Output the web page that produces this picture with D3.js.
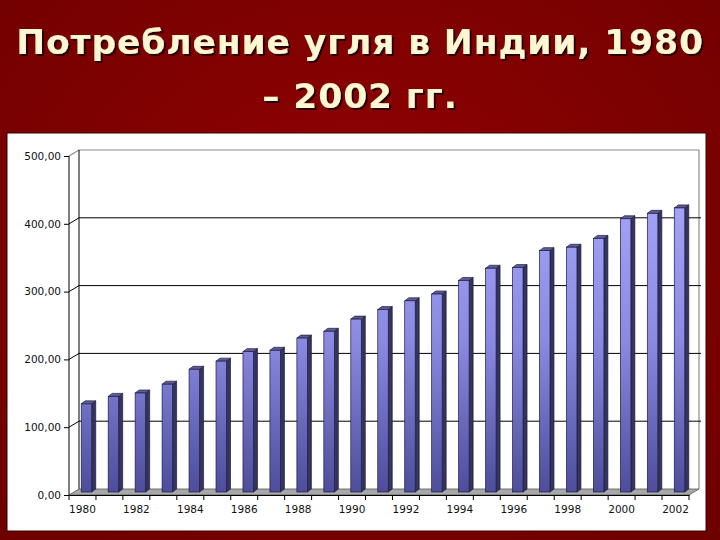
<!DOCTYPE html>
<html>
<head>
<meta charset="utf-8">
<script src="https://cdn.jsdelivr.net/npm/d3@7"></script>
<style>
  body { margin: 0; background: #870000; }
  svg { display: block; }
</style>
</head>
<body>
<div id="chart"></div>
<script>
const width = 720;
const height = 540;

const titleLines = ["Потребление угля в Индии, 1980", "– 2002 гг."];
const years = d3.range(1980, 2003).map(String);
const consumption = [130, 141, 146, 159, 181, 193, 207, 209, 227, 237, 255, 269,
  282, 292, 312, 330, 331, 356, 361, 374, 403, 411, 419];
const yTicks = [0, 100, 200, 300, 400, 500];

const depth = {dx: 10, dy: -6};   // 3d offset of the back wall
const barDepth = {dx: 4, dy: -3}; // thickness of a column

const svg = d3.select("#chart")
  .append("svg")
  .attr("width", width)
  .attr("height", height);

const defs = svg.append("defs");
const bg = defs.append("radialGradient").attr("id", "bg")
  .attr("cx", "50%").attr("cy", "40%").attr("r", "75%");
bg.append("stop").attr("offset", "0%").attr("stop-color", "#920202");
bg.append("stop").attr("offset", "100%").attr("stop-color", "#6e0000");

const grad = defs.append("linearGradient").attr("id", "barGrad")
  .attr("gradientUnits", "userSpaceOnUse")
  .attr("x1", 0).attr("y1", 150).attr("x2", 0).attr("y2", 495);
grad.append("stop").attr("offset", "0%").attr("stop-color", "#acacff");
grad.append("stop").attr("offset", "55%").attr("stop-color", "#8a8ae2");
grad.append("stop").attr("offset", "100%").attr("stop-color", "#4c4c9a");

const shadow = defs.append("filter").attr("id", "shadow")
  .attr("x", "-5%").attr("y", "-20%").attr("width", "110%").attr("height", "140%");
shadow.append("feDropShadow")
  .attr("dx", 2).attr("dy", 2).attr("stdDeviation", 0.6)
  .attr("flood-color", "#1e0000").attr("flood-opacity", 0.9);

svg.append("rect").attr("width", width).attr("height", height).attr("fill", "url(#bg)");

// title
svg.append("g")
  .attr("font-family", "DejaVu Sans, Verdana, sans-serif")
  .attr("font-weight", "bold")
  .attr("font-size", 34.5)
  .attr("letter-spacing", 0.9)
  .attr("text-anchor", "middle")
  .attr("fill", "#fff6d2")
  .attr("filter", "url(#shadow)")
  .selectAll("text")
  .data(titleLines)
  .join("text")
  .attr("x", width / 2)
  .attr("y", (d, i) => (i === 0 ? 54 : 108))
  .text(d => d);

// white panel
svg.append("rect")
  .attr("x", 7).attr("y", 133)
  .attr("width", 699).attr("height", 398)
  .attr("fill", "#ffffff")
  .attr("stroke", "#3a0000");

const x = d3.scaleBand()
  .domain(years)
  .range([69, 689]);

const yFront = d3.scaleLinear().domain([0, 500]).range([495, 156]);
const yBack = d3.scaleLinear().domain([0, 500]).range([495 + depth.dy, 156 + depth.dy]);
const yBar = d3.scaleLinear().domain([0, 500]).range([495 + depth.dy / 2, 156 + depth.dy / 2]);

const x0 = x.range()[0], x1 = x.range()[1];

// back wall frame
svg.append("path")
  .attr("d", `M${x0},${yFront(500)}L${x0 + depth.dx},${yBack(500)}L${x1 + depth.dx},${yBack(500)}L${x1 + depth.dx},${yBack(0)}`)
  .attr("fill", "none")
  .attr("stroke", "#8c8c8c")
  .attr("stroke-width", 1.2);

svg.append("line")
  .attr("x1", x0 + depth.dx).attr("x2", x0 + depth.dx)
  .attr("y1", yBack(500)).attr("y2", yBack(0))
  .attr("stroke", "#000");

// gridlines
const grid = svg.append("g").attr("stroke", "#000").attr("fill", "none");
grid.selectAll("path")
  .data(yTicks.filter(d => d > 0 && d < 500))
  .join("path")
  .attr("d", d => `M${x0},${yFront(d)}L${x0 + depth.dx},${yBack(d)}L${x1 + depth.dx + 2},${yBack(d)}`);

// floor
svg.append("path")
  .attr("d", `M${x0},${yFront(0)}L${x1},${yFront(0)}L${x1 + depth.dx},${yBack(0)}L${x0 + depth.dx},${yBack(0)}Z`)
  .attr("fill", "#a8a8a8")
  .attr("stroke", "#555")
  .attr("stroke-width", 0.8);

// columns
const barW = 10.5;
const bars = svg.append("g").attr("stroke", "#1c1c40").attr("stroke-width", 0.7);
const data = years.map((yr, i) => ({year: yr, value: consumption[i]}));
const bx = d => x(d.year) + depth.dx / 2 + (x.bandwidth() - barW) / 2 - 1;

bars.selectAll(".side")
  .data(data)
  .join("path")
  .attr("fill", "#34345e")
  .attr("d", d => {
    const l = bx(d) + barW, t = yBar(d.value), b = yBar(0);
    return `M${l},${t}L${l + barDepth.dx},${t + barDepth.dy}L${l + barDepth.dx},${b + barDepth.dy}L${l},${b}Z`;
  });

bars.selectAll(".top")
  .data(data)
  .join("path")
  .attr("fill", "#5c5c96")
  .attr("d", d => {
    const l = bx(d), t = yBar(d.value);
    return `M${l},${t}L${l + barW},${t}L${l + barW + barDepth.dx},${t + barDepth.dy}L${l + barDepth.dx},${t + barDepth.dy}Z`;
  });

bars.selectAll(".front")
  .data(data)
  .join("rect")
  .attr("fill", "url(#barGrad)")
  .attr("x", d => bx(d))
  .attr("y", d => yBar(d.value))
  .attr("width", barW)
  .attr("height", d => yBar(0) - yBar(d.value));

// y axis
const yAxis = svg.append("g")
  .attr("transform", `translate(${x0},0)`)
  .call(d3.axisLeft(yFront)
    .tickValues(yTicks)
    .tickSize(5)
    .tickPadding(3)
    .tickFormat(d => d3.format(".2f")(d).replace(".", ",")));
yAxis.select(".domain").attr("d", `M-0,${yFront(500)}V${yFront(0)}`);

// x axis
const xAxis = svg.append("g")
  .attr("transform", `translate(0,${yFront(0)})`)
  .call(d3.axisBottom(x)
    .tickSize(0)
    .tickPadding(11)
    .tickFormat(d => (+d % 2 === 0 ? d : "")));

xAxis.selectAll(".bnd")
  .data(years.concat("end"))
  .join("line")
  .attr("x1", d => (d === "end" ? x1 : x(d)))
  .attr("x2", d => (d === "end" ? x1 : x(d)))
  .attr("y1", 0).attr("y2", 5)
  .attr("stroke", "#000");

svg.selectAll(".tick text")
  .attr("font-family", "DejaVu Sans, sans-serif")
  .attr("font-size", 10.5)
  .attr("fill", "#111");
</script>
</body>
</html>
